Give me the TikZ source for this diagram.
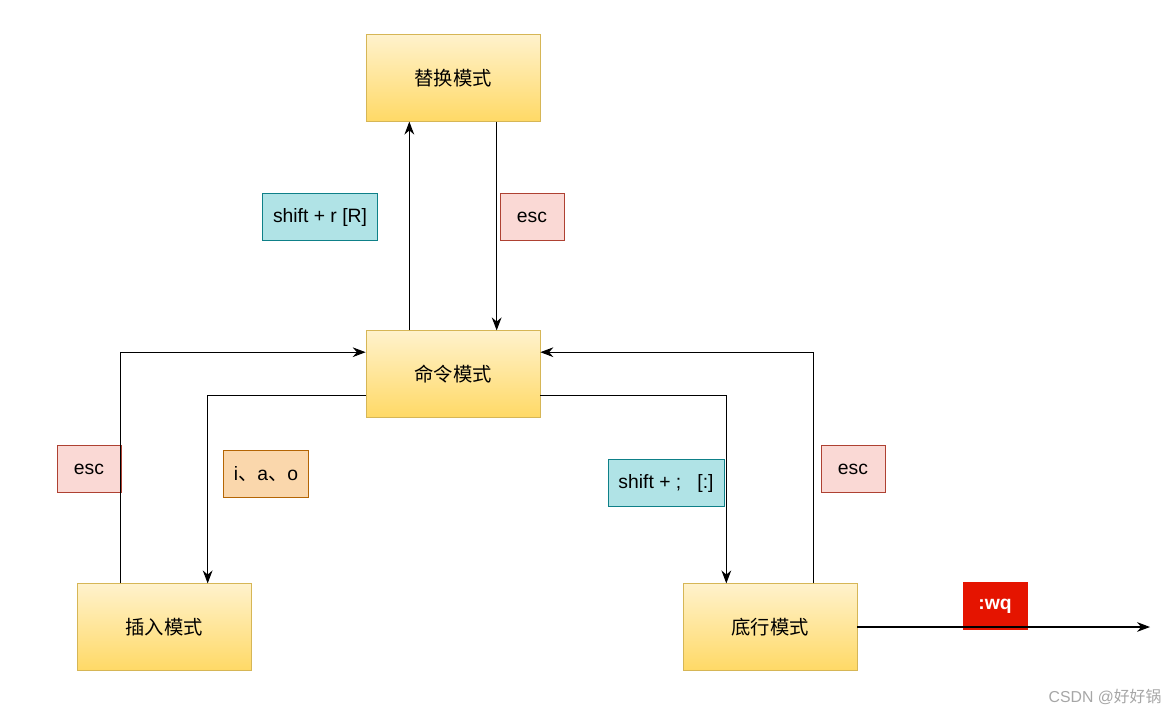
\documentclass[tikz,border=0pt]{standalone}
\usepackage{fontspec}
\setmainfont{Liberation Sans}
\newfontfamily\cjk{Noto Sans CJK SC}
\usetikzlibrary{arrows.meta,positioning,calc}
\definecolor{modefill}{HTML}{FFF2CC}
\definecolor{modefilltwo}{HTML}{FFD966}
\definecolor{modeline}{HTML}{D6B656}
\definecolor{tealfill}{HTML}{B0E3E6}
\definecolor{tealline}{HTML}{0E8088}
\definecolor{pinkfill}{HTML}{FAD9D5}
\definecolor{pinkline}{HTML}{AE4132}
\definecolor{orgfill}{HTML}{FAD7AC}
\definecolor{orgline}{HTML}{B46504}
\definecolor{redfill}{HTML}{E51400}

\begin{document}
\begin{tikzpicture}[x=0.02cm, y=-0.02cm,
    mode/.style={draw=modeline, rectangle, top color=modefill, bottom color=modefilltwo, minimum width=3.48cm, minimum height=1.73cm, font=\fontsize{11}{13}\selectfont\cjk},
    key/.style={draw, rectangle, minimum height=0.93cm, inner xsep=6pt, font=\fontsize{11}{13}\selectfont},
    shiftkey/.style={key, fill=tealfill, draw=tealline},
    esckey/.style={key, fill=pinkfill, draw=pinkline, minimum width=1.28cm},
    insertkey/.style={key, fill=orgfill, draw=orgline},
    arrow/.style={-{Stealth[length=2.6mm]}, semithick}
]
\useasboundingbox (0,0) rectangle (1171,714);

% Modes
\node[mode] (replace) at (453, 78) {替换模式};
\node[mode] (command) at (453, 374) {命令模式};
\node[mode] (insert) at (164, 627) {插入模式};
\node[mode] (lastline) at (770, 627) {底行模式};

% Key labels
\node[shiftkey] (shiftr) at (320, 217) {shift + r [R]};
\node[esckey] (escreplace) at (532, 217) {esc};
\node[esckey] (escinsert) at (89, 469) {esc};
\node[insertkey] (iao) at (266, 474) {i{\cjk 、}a{\cjk 、}o};
\node[shiftkey] (shiftcolon) at (666, 483) {shift + ;\ \ \ [:]};
\node[esckey] (esclast) at (853, 469) {esc};
\node[key, fill=redfill, draw=redfill, text=white, minimum width=1.28cm, font=\fontsize{11}{13}\selectfont\bfseries] (wq) at (995, 606) {:wq};
\coordinate (exit) at (1150, 627);

% Arrows
\draw[arrow] ($(command.north west)!0.25!(command.north east)$) -- ($(replace.south west)!0.25!(replace.south east)$);
\draw[arrow] ($(replace.south west)!0.75!(replace.south east)$) -- ($(command.north west)!0.75!(command.north east)$);
\draw[arrow] ($(insert.north west)!0.25!(insert.north east)$) |- ($(command.north west)!0.25!(command.south west)$);
\draw[arrow] ($(command.north west)!0.75!(command.south west)$) -| ($(insert.north west)!0.75!(insert.north east)$);
\draw[arrow] ($(command.north east)!0.75!(command.south east)$) -| ($(lastline.north west)!0.25!(lastline.north east)$);
\draw[arrow] ($(lastline.north west)!0.75!(lastline.north east)$) |- ($(command.north east)!0.25!(command.south east)$);
\draw[arrow] (lastline) -- (exit);

% Watermark
\node[text=gray!70, font=\fontsize{9}{11}\selectfont] (mark) at (1105, 697) {CSDN @{\cjk 好好锅}};
\end{tikzpicture}
\end{document}
